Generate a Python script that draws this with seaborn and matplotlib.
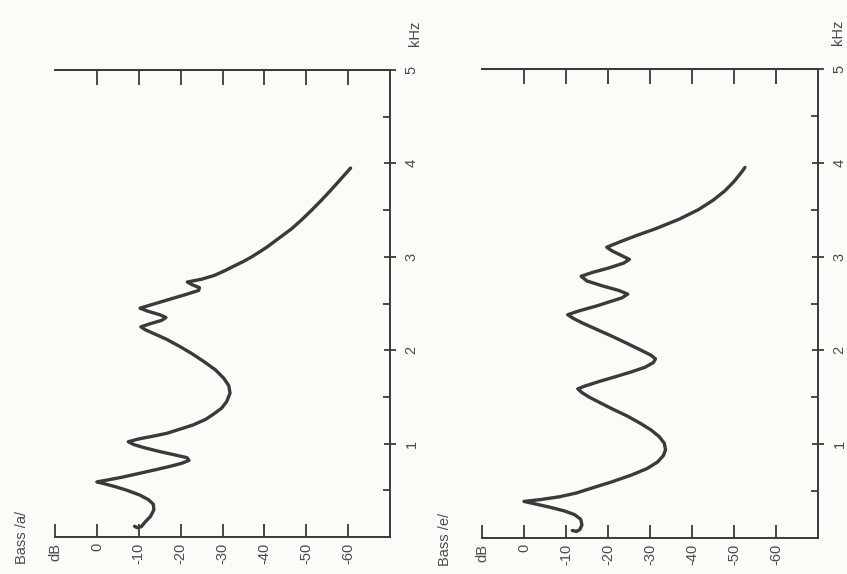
import matplotlib
matplotlib.use("Agg")
import matplotlib.pyplot as plt
import seaborn as sns
import pandas as pd

# ---- data : frequency in kHz, level in dB ----
a_khz = [0.115, 0.10, 0.11, 0.16, 0.22, 0.29, 0.35, 0.40, 0.45, 0.50, 0.54, 0.57,
         0.59, 0.61, 0.64, 0.68, 0.72, 0.76, 0.79, 0.82, 0.85, 0.88, 0.92, 0.96,
         0.99, 1.02, 1.05, 1.08, 1.11, 1.15, 1.20, 1.26, 1.32, 1.38, 1.45, 1.54,
         1.62, 1.70, 1.79, 1.88, 1.96, 2.04, 2.12, 2.18, 2.22, 2.25, 2.28, 2.32,
         2.35, 2.38, 2.42, 2.45, 2.48, 2.52, 2.56, 2.60, 2.64, 2.67, 2.70, 2.73,
         2.76, 2.80, 2.85, 2.90, 2.95, 3.00, 3.10, 3.20, 3.30, 3.40, 3.50, 3.60,
         3.70, 3.80, 3.90, 3.95]
a_db = [-9.0, -9.6, -10.6, -11.5, -12.8, -13.6, -13.5, -12.3, -10.2, -7.2, -4.3, -1.8,
        0.0, -2.5, -6.0, -10.0, -14.0, -17.8, -20.3, -22.0, -21.5, -18.5, -14.5, -11.0,
        -8.8, -7.5, -10.0, -13.5, -16.7, -19.5, -23.0, -26.0, -28.0, -29.8, -31.0, -31.8,
        -31.5, -30.3, -28.3, -25.5, -22.8, -19.8, -16.5, -13.5, -11.5, -10.5, -12.5, -15.5,
        -16.5, -15.0, -12.0, -10.3, -12.5, -15.5, -18.5, -21.5, -24.3, -24.5, -22.8, -21.6,
        -25.0, -28.0, -30.5, -32.7, -35.0, -37.0, -40.5, -43.5, -46.5, -49.0, -51.3, -53.5,
        -55.6, -57.6, -59.6, -60.6]

e_khz = [0.08, 0.07, 0.09, 0.14, 0.20, 0.25, 0.29, 0.33, 0.36, 0.39, 0.41, 0.44,
         0.48, 0.53, 0.60, 0.67, 0.74, 0.81, 0.88, 0.94, 1.01, 1.08, 1.15, 1.22,
         1.30, 1.37, 1.44, 1.50, 1.55, 1.59, 1.62, 1.67, 1.72, 1.77, 1.82, 1.87,
         1.91, 1.95, 2.01, 2.08, 2.15, 2.22, 2.29, 2.34, 2.38, 2.42, 2.47, 2.52,
         2.56, 2.60, 2.64, 2.69, 2.74, 2.79, 2.83, 2.88, 2.93, 2.97, 3.01, 3.06,
         3.10, 3.16, 3.22, 3.30, 3.40, 3.50, 3.60, 3.70, 3.80, 3.90, 3.95]
e_db = [-11.5, -12.5, -13.3, -13.8, -13.5, -12.0, -9.5, -6.0, -3.0, 0.0, -4.0, -8.5,
        -12.5, -16.0, -21.0, -25.5, -29.3, -31.8, -33.2, -33.7, -33.4, -32.2, -30.3, -27.8,
        -24.6, -21.3, -18.2, -15.6, -13.8, -12.8, -14.5, -18.0, -21.8, -25.5, -28.8, -30.8,
        -31.3, -30.2, -27.5, -24.3, -21.0, -17.5, -14.0, -11.8, -10.4, -13.0, -17.0, -20.5,
        -23.3, -24.7, -22.5, -18.5, -15.0, -13.6, -16.2, -20.3, -23.7, -25.1, -23.3, -21.0,
        -19.7, -23.0, -26.5, -31.5, -37.0, -41.5, -45.0, -47.8, -50.0, -51.8, -52.6]

panel_titles = ["Bass /a/", "Bass /e/"]
db_ticks = [10, 0, -10, -20, -30, -40, -50, -60]
db_labels = ["dB", "0", "-10", "-20", "-30", "-40", "-50", "-60"]
db_top_ticks = [0, -10, -20, -30, -40, -50, -60]
khz_ticks = [1, 2, 3, 4, 5]
khz_labels = ["1", "2", "3", "4", "5"]
khz_minor = [0.5, 1.5, 2.5, 3.5, 4.5]
freq_unit = "kHz"

sns.set_theme(style="white")
plt.rcParams['font.family'] = ['Liberation Sans', 'DejaVu Sans']

ink = "#3a3a3a"
txt = "#4a4a4a"
fig = plt.figure(figsize=(8.47, 5.74), dpi=100, facecolor="#fbfbf8")

positions = [[55 / 847, 37 / 574, 335 / 847, 467 / 574],
             [482 / 847, 36 / 574, 336 / 847, 469 / 574]]
series = [(a_khz, a_db), (e_khz, e_db)]
title_x = [-0.098, -0.11]
unit_x = [1.075, 1.06]

for pos, (khz, db), title, tx, ux in zip(positions, series, panel_titles, title_x, unit_x):
    ax = fig.add_axes(pos)
    ax.set_facecolor("none")
    df = pd.DataFrame({"dB": db, "kHz": khz})
    sns.lineplot(data=df, x="dB", y="kHz", sort=False, estimator=None,
                 ax=ax, color=ink, lw=2.4, solid_joinstyle="round",
                 solid_capstyle="round")
    ax.set_xlim(10, -70)
    ax.set_ylim(0, 5)
    ax.set_xlabel("")
    ax.set_ylabel("")
    for s in ["bottom", "right", "top"]:
        ax.spines[s].set_visible(True)
        ax.spines[s].set_color(ink)
        ax.spines[s].set_linewidth(1.4)
    ax.spines["left"].set_visible(False)

    # bottom dB axis
    ax.set_xticks(db_ticks)
    ax.set_xticklabels(db_labels, rotation=90, fontsize=10.5, color=txt)
    ax.tick_params(axis="x", which="major", direction="in", length=9.5,
                   width=1.3, color=ink, bottom=True, top=False, pad=4)
    # top ticks
    sec = ax.secondary_xaxis("top")
    sec.set_xticks(db_top_ticks)
    sec.set_xticklabels([])
    sec.tick_params(axis="x", direction="in", length=11, width=1.3, color=ink)
    sec.spines["top"].set_color(ink)
    sec.spines["top"].set_linewidth(1.4)

    # right kHz axis
    ax.yaxis.tick_right()
    ax.set_yticks(khz_ticks)
    ax.set_yticklabels(khz_labels, rotation=90, fontsize=10.5, color=txt,
                       va="center")
    ax.set_yticks(khz_minor, minor=True)
    ax.tick_params(axis="y", which="major", direction="inout", length=9,
                   width=1.3, color=ink, right=True, left=False, pad=6)
    ax.tick_params(axis="y", which="minor", direction="in", length=5,
                   width=1.3, color=ink, right=True, left=False)

    ax.text(ux, 1.079, freq_unit, transform=ax.transAxes, rotation=90,
            ha="center", va="center", fontsize=10.5, color=txt)
    ax.text(tx, -0.002, title, transform=ax.transAxes, rotation=90,
            ha="center", va="center", fontsize=10.5, color=txt)

fig.savefig("out.png", dpi=100, facecolor=fig.get_facecolor())
